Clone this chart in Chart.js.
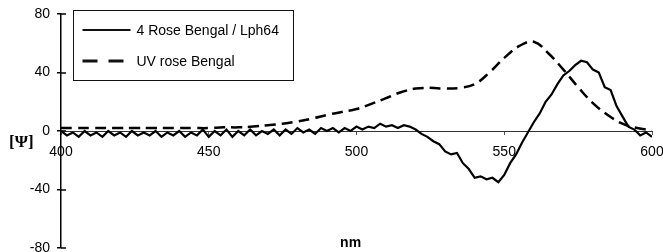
<!DOCTYPE html>
<html>
<head>
<meta charset="utf-8">
<script src="https://cdn.jsdelivr.net/npm/chart.js@4.4.1/dist/chart.umd.min.js"></script>
<style>
  html, body { margin: 0; padding: 0; background: #fff; }
</style>
</head>
<body>
<canvas id="chart" width="663" height="252"></canvas>
<script>
// 4 Rose Bengal / Lph64 (noisy trace, every 2 nm)
const lphNm = [
  400, 402, 404, 406, 408, 410, 412, 414, 416, 418,
  420, 422, 424, 426, 428, 430, 432, 434, 436, 438,
  440, 442, 444, 446, 448, 450, 452, 454, 456, 458,
  460, 462, 464, 466, 468, 470, 472, 474, 476, 478,
  480, 482, 484, 486, 488, 490, 492, 494, 496, 498,
  500, 502, 504, 506, 508, 510, 512, 514, 516, 518,
  520, 522, 524, 526, 528, 530, 532, 534, 536, 538,
  540, 542, 544, 546, 548, 550, 552, 554, 556, 558,
  560, 562, 564, 566, 568, 570, 572, 574, 576, 578,
  580, 582, 584, 586, 588, 590, 592, 594, 596, 598,
  600
];
const lphValues = [
  0, -3, -1, -4, 0, -3, -1, -4, 0, -3,
  -1, -4, 0, -3, -1, -3, 0, -4, -1, -3,
  0, -4, -1, -3, 1, -4, 0, -3, 1, -4,
  0, -3, 1, -3, 0, -2, 1, -3, 1, -2,
  2, -1, 1, -2, 2, 0, 2, -1, 2, 0,
  3, 1, 3, 2, 5, 3, 4, 2, 4, 3,
  1, -2, -4, -7, -9, -14, -16, -15, -22, -26,
  -32, -31, -33, -32, -35, -30, -22, -16, -8, -1,
  6, 12, 20, 25, 32, 38, 41, 45, 48, 47,
  42, 40, 30, 28, 17, 10, 3, 1, -3, -1,
  -4
];

// UV rose Bengal (smooth trace, every 5 nm)
const uvNm = [
  400, 405, 410, 415, 420, 425, 430, 435, 440, 445,
  450, 455, 460, 465, 470, 475, 480, 485, 490, 495,
  500, 505, 510, 515, 520, 525, 530, 535, 540, 545,
  550, 555, 560, 565, 570, 575, 580, 585, 590, 595,
  600
];
const uvValues = [
  2, 2, 2, 2, 2, 2, 2, 2, 2, 2,
  2, 2.5, 2.5, 3, 4, 5, 6.5, 8.5, 11, 13,
  15, 18.5, 22.5, 26.5, 29, 29.5, 29, 29.5, 32, 40,
  50, 58, 61, 53, 42, 30, 19, 11, 5, 2,
  0.5
];

const seriesLabels = ['4 Rose Bengal / Lph64', 'UV rose Bengal'];
const xTicks = [400, 450, 500, 550, 600];
const yTicks = [-80, -40, 0, 40, 80];
const xTitle = 'nm';
const yTitle = '[\u03A8]';

const FONT = '"Liberation Sans", Arial, sans-serif';

const toPoints = (xs, ys) => xs.map((x, i) => ({ x, y: ys[i] }));

// legend box, axis titles and the inner half of the y tick marks
const extras = {
  id: 'extras',
  afterDraw(chart) {
    const { ctx, chartArea, scales } = chart;
    const ys = scales.y;
    const xs = scales.x;
    ctx.save();

    ctx.strokeStyle = '#000';
    ctx.lineWidth = 1.5;
    yTicks.forEach(v => {
      const py = Math.round(ys.getPixelForValue(v));
      ctx.beginPath();
      ctx.moveTo(chartArea.left, py);
      ctx.lineTo(chartArea.left + 5, py);
      ctx.stroke();
    });

    // legend
    const bx = chartArea.left + 12.5, by = 10.5, bw = 220, bh = 70;
    ctx.lineWidth = 1;
    ctx.strokeStyle = '#111';
    ctx.strokeRect(bx, by, bw, bh);

    const rows = [by + 19.5, by + 50.5];
    chart.data.datasets.forEach((ds, i) => {
      ctx.beginPath();
      ctx.lineWidth = i === 0 ? 2 : 3;
      ctx.setLineDash(i === 0 ? [] : [15, 11]);
      ctx.moveTo(bx + 9, rows[i]);
      ctx.lineTo(bx + 57, rows[i]);
      ctx.stroke();
      ctx.setLineDash([]);
      ctx.fillStyle = '#000';
      ctx.font = '14px ' + FONT;
      ctx.textAlign = 'left';
      ctx.textBaseline = 'middle';
      ctx.fillText(ds.label, bx + 63, rows[i] + 1);
    });

    // y title, horizontal, left of the axis
    ctx.font = 'bold 17px "Liberation Serif", "DejaVu Serif", serif';
    ctx.textAlign = 'left';
    ctx.textBaseline = 'middle';
    ctx.fillText(yTitle, 9, ys.getPixelForValue(0) + 12);

    // x title at the bottom
    ctx.font = 'bold 14px ' + FONT;
    ctx.textAlign = 'center';
    ctx.fillText(xTitle, xs.getPixelForValue(498), chartArea.bottom - 5);

    ctx.restore();
  }
};

const ctx = document.getElementById('chart');

new Chart(ctx, {
  type: 'line',
  data: {
    datasets: [
      {
        label: seriesLabels[0],
        data: toPoints(lphNm, lphValues),
        borderColor: '#000',
        borderWidth: 2.2,
        pointRadius: 0,
        tension: 0
      },
      {
        label: seriesLabels[1],
        data: toPoints(uvNm, uvValues),
        borderColor: '#000',
        borderWidth: 2.5,
        borderDash: [11, 6],
        pointRadius: 0,
        tension: 0.4
      }
    ]
  },
  options: {
    responsive: false,
    animation: false,
    layout: { padding: { top: 14, right: 11, bottom: 4, left: 0 } },
    plugins: {
      legend: { display: false },
      tooltip: { enabled: false }
    },
    scales: {
      x: {
        type: 'linear',
        min: 400,
        max: 600,
        position: { y: 0 },
        afterBuildTicks: s => { s.ticks = xTicks.map(v => ({ value: v })); },
        afterFit: s => { s.height = 0; s.paddingLeft = 0; s.paddingRight = 0; },
        grid: { drawOnChartArea: false, tickLength: 3, color: '#555' },
        border: { color: '#333', width: 1 },
        ticks: {
          color: '#000',
          font: { family: FONT, size: 14 },
          padding: 10,
          maxRotation: 0
        }
      },
      y: {
        position: 'left',
        min: -80,
        max: 80,
        afterBuildTicks: s => { s.ticks = yTicks.map(v => ({ value: v })); },
        afterFit: s => { s.width = 61; s.paddingTop = 0; s.paddingBottom = 0; },
        grid: { drawOnChartArea: false, tickLength: 4, color: '#000', lineWidth: 1.5 },
        border: { color: '#000', width: 1.5 },
        ticks: {
          color: '#000',
          font: { family: FONT, size: 14 },
          padding: 7
        }
      }
    }
  },
  plugins: [extras]
});
</script>
</body>
</html>
